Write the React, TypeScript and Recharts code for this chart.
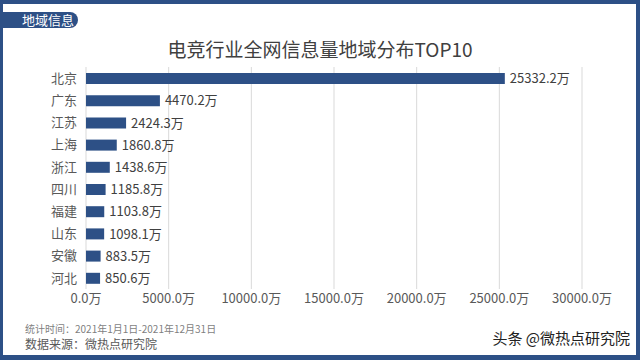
import { BarChart, Bar, XAxis, YAxis, CartesianGrid, LabelList } from 'recharts'

const provinces = ['北京', '广东', '江苏', '上海', '浙江', '四川', '福建', '山东', '安徽', '河北']
const volumes = [25332.2, 4470.2, 2424.3, 1860.8, 1438.6, 1185.8, 1103.8, 1098.1, 883.5, 850.6]
const xTicks = [0, 5000, 10000, 15000, 20000, 25000, 30000]

const BLUE = '#2d5086'
const FONT = '"Noto Sans CJK SC", "Noto Sans", sans-serif'

export default function App() {
  const chartData = provinces.map((name, i) => ({ name, value: volumes[i] }))

  return (
    <div
      style={{
        position: 'absolute',
        left: 0,
        top: 0,
        width: 640,
        height: 360,
        background: '#fff',
        fontFamily: FONT,
        overflow: 'hidden',
      }}
    >
      {/* outer frame */}
      <div
        style={{
          position: 'absolute',
          left: 0,
          top: 0,
          width: 640,
          height: 360,
          boxSizing: 'border-box',
          borderStyle: 'solid',
          borderColor: BLUE,
          borderWidth: '4px 4px 5px 3px',
          zIndex: 2,
          pointerEvents: 'none',
        }}
      />
      {/* header tag */}
      <div
        style={{
          position: 'absolute',
          left: 0,
          top: 12,
          width: 78,
          height: 16,
          background: BLUE,
          borderRadius: '0 8px 8px 0',
          color: '#fff',
          fontSize: 13,
          lineHeight: '16px',
          paddingLeft: 22,
          boxSizing: 'border-box',
        }}
      >
        地域信息
      </div>
      <div
        style={{
          position: 'absolute',
          left: 0,
          top: 36,
          width: 640,
          textAlign: 'center',
          fontSize: 19,
          color: '#404040',
          lineHeight: '26px',
        }}
      >
        电竞行业全网信息量地域分布TOP10
      </div>

      <div style={{ position: 'absolute', left: 0, top: 0 }}>
        <BarChart
          width={640}
          height={360}
          data={chartData}
          layout="vertical"
          margin={{ top: 67, right: 58, left: 0, bottom: 41 }}
          barSize={11}
        >
          <CartesianGrid stroke="#d9d9d9" horizontal={false} vertical={true} />
          <XAxis
            type="number"
            domain={[0, 30000]}
            ticks={xTicks}
            tickFormatter={(v: number) => v.toFixed(1) + '万'}
            tick={{ fontSize: 13, fill: '#595959', fontFamily: FONT }}
            axisLine={false}
            tickLine={false}
            tickSize={0}
            tickMargin={5}
            height={30}
            interval={0}
          />
          <YAxis
            type="category"
            dataKey="name"
            width={86}
            interval={0}
            tick={{ fontSize: 13, fill: '#595959', fontFamily: FONT }}
            axisLine={false}
            tickLine={false}
            tickSize={0}
            tickMargin={9}
          />
          <Bar dataKey="value" fill={BLUE} isAnimationActive={false}>
            <LabelList
              dataKey="value"
              position="right"
              offset={5}
              formatter={(v: any) => Number(v).toFixed(1) + '万'}
              style={{ fontSize: 13, fill: '#404040', fontFamily: FONT }}
            />
          </Bar>
        </BarChart>
      </div>

      <div
        style={{
          position: 'absolute',
          left: 25,
          top: 322,
          fontSize: 10,
          color: '#7f7f7f',
          lineHeight: '14px',
        }}
      >
        统计时间：2021年1月1日-2021年12月31日
      </div>
      <div
        style={{
          position: 'absolute',
          left: 25,
          top: 336,
          fontSize: 12,
          color: '#595959',
          lineHeight: '16px',
        }}
      >
        数据来源：微热点研究院
      </div>
      <div
        style={{
          position: 'absolute',
          right: 10,
          top: 328,
          fontSize: 15,
          color: '#222',
          lineHeight: '20px',
        }}
      >
        头条 @微热点研究院
      </div>
    </div>
  )
}
